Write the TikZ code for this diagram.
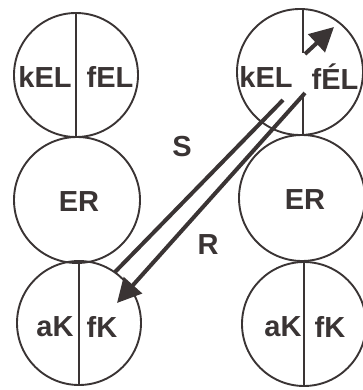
\documentclass[tikz,border=0pt]{standalone}
\usepackage{fontspec}
\setmainfont{Liberation Sans}
\usetikzlibrary{arrows.meta}
\definecolor{ink}{RGB}{58,52,52}
\begin{document}
\begin{tikzpicture}[x=1pt,y=-1pt,
  cell/.style={circle,draw=ink,line width=1.9pt,inner sep=0pt},
  lbl/.style={text=ink,font=\fontsize{29}{31}\selectfont\bfseries,inner sep=0pt},
  divider/.style={draw=ink,line width=1.7pt},
  thick arrow/.style={draw=ink,line width=4pt},
  head/.style={-{Triangle[length=24pt,width=24pt]}}]
\useasboundingbox (0,0) rectangle (363,390);
% left column
\node[cell,minimum size=124pt] (lt) at (76,75) {};
\node[cell,minimum size=126pt] (lm) at (77,200) {};
\node[cell,minimum size=124pt] (lb) at (79,323) {};
% right column
\node[cell,minimum size=126pt] (rt) at (300,72) {};
\node[cell,minimum size=126pt] (rm) at (302,198) {};
\node[cell,minimum size=124pt] (rb) at (304,324) {};
% dividers
\draw[divider] (lt.north) -- (lt.south);
\draw[divider] (lb.north) -- (lb.south);
\draw[divider] (rb.north) -- (rb.south);
\coordinate (rtn) at (303,9);
\coordinate (rtk) at (303,53);
\coordinate (rtl) at (303,93);
\coordinate (rts) at (303,135);
\draw[divider] (rtn) -- (rtk);
\draw[divider] (rtl) -- (rts);
% labels
\node[lbl] (kEL1) at (45,77) {kEL};
\node[lbl] (fEL1) at (110,77) {fEL};
\node[lbl] (kEL2) at (266,77) {kEL};
\node[lbl] (fEL2) at (335,77) {fÉL};
\node[lbl] (ER1) at (79,202) {ER};
\node[lbl] (ER2) at (305,200) {ER};
\node[lbl] (aK1) at (55,327) {aK};
\node[lbl] (fK1) at (102,327) {fK};
\node[lbl] (aK2) at (283,327) {aK};
\node[lbl] (fK2) at (330,327) {fK};
\node[lbl] (S) at (182,147) {S};
\node[lbl] (R) at (208,245) {R};
% arrows
\coordinate (s0) at (115,272);
\coordinate (s1) at (283,100);
\coordinate (s2) at (305,54);
\coordinate (s3) at (334,27);
\draw[thick arrow,line cap=butt] (s0) -- (s1);
\draw[thick arrow,head] (s2) -- (s3);
\coordinate (r0) at (305,93);
\coordinate (r1) at (117,303);
\draw[thick arrow,head] (r0) -- (r1);
\end{tikzpicture}
\end{document}
